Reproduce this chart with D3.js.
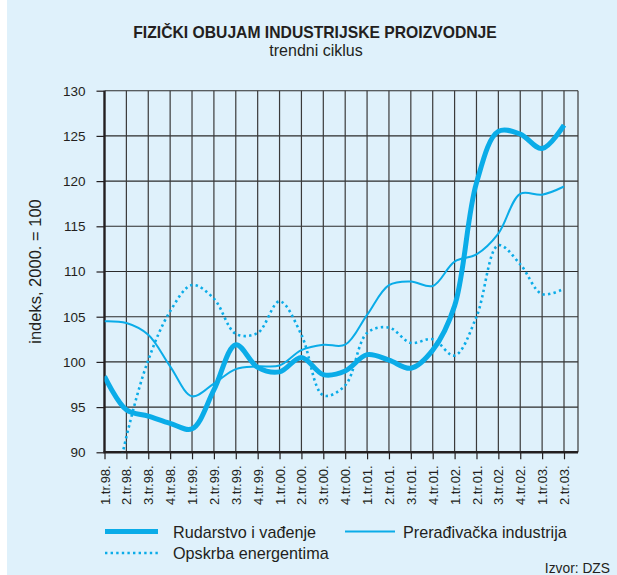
<!DOCTYPE html>
<html>
<head>
<meta charset="utf-8">
<script src="https://cdn.jsdelivr.net/npm/d3@7"></script>
<style>
  body { margin: 0; background: #fff; }
  text { font-family: "Liberation Sans", Arial, sans-serif; fill: #231f20; }
</style>
</head>
<body>
<div class="canvas"></div>
<script>
// quarter labels (the original has "2.tr.01." twice, kept as printed)
const quarters = [
  "1.tr.98.", "2.tr.98.", "3.tr.98.", "4.tr.98.",
  "1.tr.99.", "2.tr.99.", "3.tr.99.", "4.tr.99.",
  "1.tr.00.", "2.tr.00.", "3.tr.00.", "4.tr.00.",
  "1.tr.01.", "2.tr.01.", "3.tr.01.", "4.tr.01.",
  "1.tr.02.", "2.tr.01.", "3.tr.02.", "4.tr.02.",
  "1.tr.03.", "2.tr.03."
];
const yTicks = [90, 95, 100, 105, 110, 115, 120, 125, 130];

// series values, index 2000 = 100
const rudarstvo = [98.4, 94.7, 94.0, 93.2, 92.6, 96.9, 101.9, 99.4, 98.9, 100.5, 98.6, 99.0,
  100.8, 100.2, 99.3, 101.3, 106.2, 119.8, 125.5, 125.2, 123.6, 126.2];
const preradivacka = [104.5, 104.3, 103.0, 99.5, 96.2, 97.6, 99.2, 99.5, 99.6, 101.3, 101.9, 101.9,
  105.2, 108.5, 108.9, 108.4, 111.1, 111.9, 114.2, 118.6, 118.5, 119.4];
const opskrba = [80.0, 91.7, 100.2, 105.6, 108.5, 107.0, 103.1, 103.2, 106.7, 103.0, 96.3, 97.4,
  103.2, 103.8, 102.1, 102.5, 100.7, 105.0, 112.9, 110.8, 107.5, 108.1];

const series = [
  { name: "Rudarstvo i vađenje", values: rudarstvo, width: 5, dash: null },
  { name: "Prerađivačka industrija", values: preradivacka, width: 2, dash: null },
  { name: "Opskrba energentima", values: opskrba, width: 2.6, dash: "2.4 3.2" }
];

const W = 617, H = 575;
const plotLeft = 104.5, plotRight = 578, plotTop = 90.7, plotBottom = 452.3;
const blue = "#0aace8";

const svg = d3.select(".canvas").append("svg")
  .attr("width", W).attr("height", H);

svg.append("rect").attr("x", 7).attr("y", 0)
  .attr("width", W - 7).attr("height", H).attr("fill", "#dff1fb");

// titles
svg.append("text").attr("x", 315).attr("y", 38)
  .attr("text-anchor", "middle")
  .style("font-family", "'Liberation Sans Narrow', 'Arial Narrow', sans-serif")
  .style("font-weight", "bold").style("font-size", "15.7px")
  .text("FIZIČKI OBUJAM INDUSTRIJSKE PROIZVODNJE");
svg.append("text").attr("x", 316).attr("y", 56)
  .attr("text-anchor", "middle").style("font-size", "16px")
  .text("trendni ciklus");

// scales
const x = d3.scalePoint().domain(d3.range(quarters.length)).range([plotLeft, 564]);
const y = d3.scaleLinear().domain([90, 130]).range([plotBottom, plotTop]);

const graph = svg.append("g");

// grid
graph.append("g").selectAll("line").data(yTicks).join("line")
  .attr("x1", plotLeft).attr("x2", plotRight)
  .attr("y1", d => y(d)).attr("y2", d => y(d))
  .attr("stroke", "#2b2b2b").attr("stroke-width", 1.1);
graph.append("g").selectAll("line").data(d3.range(1, quarters.length).concat(["end"])).join("line")
  .attr("x1", d => d === "end" ? plotRight : x(d)).attr("x2", d => d === "end" ? plotRight : x(d))
  .attr("y1", plotTop).attr("y2", plotBottom)
  .attr("stroke", "#3a3a3a").attr("stroke-width", 1.2);

// axes
const yAxis = d3.axisLeft(y).tickValues(yTicks).tickSize(8).tickPadding(11);
const yAxisGroup = graph.append("g").attr("transform", `translate(${plotLeft},0)`).call(yAxis);
yAxisGroup.select(".domain").remove();
yAxisGroup.selectAll("line").attr("stroke", "#231f20").attr("stroke-width", 1.2);
yAxisGroup.selectAll("text").style("font-size", "13.5px")
  .style("font-family", "'Liberation Sans', Arial, sans-serif").attr("fill", "#231f20");

const xAxis = d3.axisBottom(x).tickFormat(i => quarters[i]).tickSize(7).tickPadding(0);
const xAxisGroup = graph.append("g").attr("transform", `translate(0,${plotBottom})`).call(xAxis);
xAxisGroup.select(".domain").remove();
xAxisGroup.selectAll("line").attr("stroke", "#231f20").attr("stroke-width", 1.2);
xAxisGroup.selectAll("text")
  .style("font-size", "13px").style("font-family", "'Liberation Sans', Arial, sans-serif")
  .attr("fill", "#231f20")
  .attr("transform", "rotate(-90)")
  .attr("text-anchor", "end")
  .attr("x", -13).attr("y", 0).attr("dy", "0.35em");

// axis lines
graph.append("line").attr("x1", plotLeft).attr("x2", plotLeft).attr("y1", plotTop).attr("y2", plotBottom)
  .attr("stroke", "#231f20").attr("stroke-width", 2.4);
graph.append("line").attr("x1", plotLeft - 1).attr("x2", plotRight).attr("y1", plotBottom).attr("y2", plotBottom)
  .attr("stroke", "#231f20").attr("stroke-width", 2.4);

// y label
svg.append("text")
  .attr("transform", `translate(41,${(plotTop + plotBottom) / 2}) rotate(-90)`)
  .attr("text-anchor", "middle").style("font-size", "16.5px")
  .text("indeks, 2000. = 100");

// clip
svg.append("clipPath").attr("id", "plot-clip").append("rect")
  .attr("x", plotLeft).attr("y", plotTop - 5)
  .attr("width", plotRight - plotLeft).attr("height", plotBottom - plotTop + 5);

const line = d3.line()
  .curve(d3.curveCatmullRom.alpha(0.5))
  .x((d, i) => x(i))
  .y(d => y(d));

graph.append("g").attr("clip-path", "url(#plot-clip)")
  .selectAll("path").data(series.slice().reverse()).join("path")
  .attr("d", d => line(d.values))
  .attr("fill", "none")
  .attr("stroke", blue)
  .attr("stroke-width", d => d.width)
  .attr("stroke-dasharray", d => d.dash);

// legend
const legend = svg.append("g");
const legendPos = [
  { lx: 105, tx: 173, y: 531.5 },
  { lx: 345, tx: 403, y: 531.5 },
  { lx: 105, tx: 173, y: 553 }
];
series.forEach((s, i) => {
  const p = legendPos[i];
  legend.append("line")
    .attr("x1", p.lx).attr("x2", p.lx + (i === 1 ? 50 : 53))
    .attr("y1", p.y).attr("y2", p.y)
    .attr("stroke", blue).attr("stroke-width", s.width)
    .attr("stroke-dasharray", s.dash);
  legend.append("text").attr("x", p.tx).attr("y", p.y + 6)
    .style("font-size", "16.2px").text(s.name);
});

svg.append("text").attr("x", 610).attr("y", 573)
  .attr("text-anchor", "end").style("font-size", "13.8px")
  .text("Izvor: DZS");
</script>
</body>
</html>
